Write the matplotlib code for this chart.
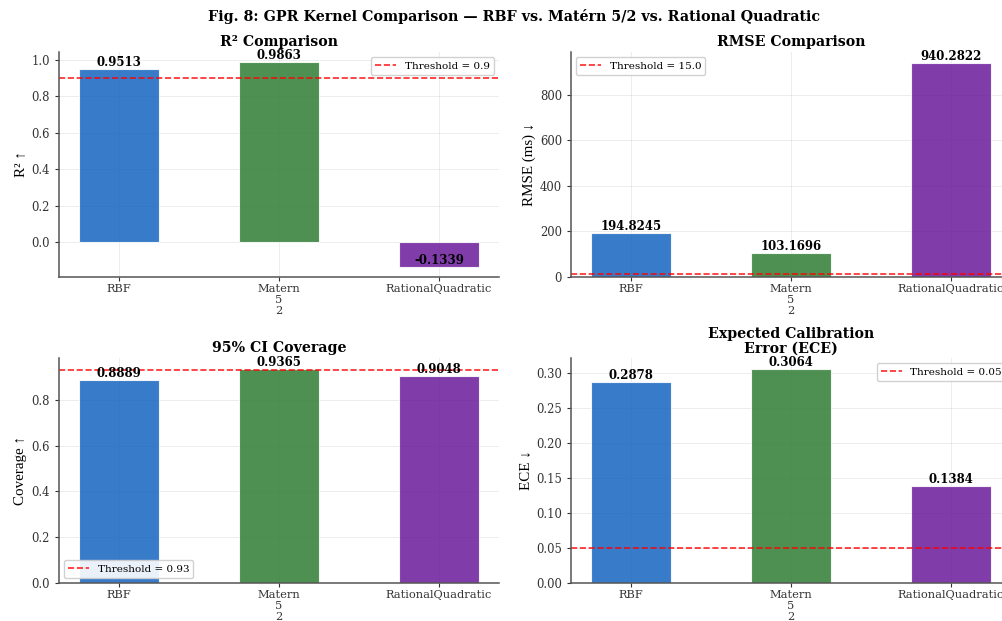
import numpy as np
import matplotlib
matplotlib.use("Agg")
import matplotlib.pyplot as plt

plt.rcParams['font.family'] = ['DejaVu Serif']
plt.rcParams['axes.unicode_minus'] = False

kernels = ['RBF', 'Matern\n5\n2', 'RationalQuadratic']
colors = ['#1565C0', '#2E7D32', '#6A1B9A']

r2 = [0.9513, 0.9863, -0.1339]
rmse = [194.8245, 103.1696, 940.2822]
coverage = [0.8889, 0.9365, 0.9048]
ece = [0.2878, 0.3064, 0.1384]

panels = [
    (r2, 'R² Comparison', 'R² ↑', 0.9, 'Threshold = 0.9', 'upper right'),
    (rmse, 'RMSE Comparison', 'RMSE (ms) ↓', 15.0, 'Threshold = 15.0', 'upper left'),
    (coverage, '95% CI Coverage', 'Coverage ↑', 0.93, 'Threshold = 0.93', 'lower left'),
    (ece, 'Expected Calibration\nError (ECE)', 'ECE ↓', 0.05, 'Threshold = 0.05', 'upper right'),
]

W, H = 1002, 621
fig = plt.figure(figsize=(W / 100, H / 100), dpi=100)

# axes boxes in pixels: left, top (width/height shared)
boxes = [(59, 52), (571, 52), (59, 358), (571, 358)]
aw, ah = 440, 225

x = np.arange(len(kernels))
for (vals, title, ylab, thr, thr_lab, loc), (px, py) in zip(panels, boxes):
    ax = fig.add_axes([px / W, 1 - (py + ah) / H, aw / W, ah / H])
    bars = ax.bar(x, vals, width=0.5, color=colors, alpha=0.85,
                  edgecolor='white', linewidth=0.8)
    for b, v in zip(bars, vals):
        ax.text(b.get_x() + b.get_width() / 2, v, f'{v:.4f}', ha='center', va='bottom',
                fontsize=8.5, fontweight='bold')
    ax.axhline(thr, color='red', linestyle='--', linewidth=1.2, alpha=0.85, label=thr_lab)
    ax.set_xticks(x)
    ax.set_xticklabels(kernels, fontsize=8.2, linespacing=1.1)
    ax.tick_params(axis='y', labelsize=8.4)
    ax.tick_params(axis='x', pad=2)
    ax.set_xlim(-0.375, 2.375)
    ax.set_title(title, fontsize=10.2, fontweight='bold', pad=4, linespacing=1.05)
    ax.set_ylabel(ylab, fontsize=10.8, family=['Liberation Serif', 'DejaVu Serif'], labelpad=3)
    ax.grid(True, color='#cccccc', alpha=0.4, linewidth=0.6)
    ax.set_axisbelow(True)
    for s in ['top', 'right']:
        ax.spines[s].set_visible(False)
    for s in ['left', 'bottom']:
        ax.spines[s].set_color('#555555')
        ax.spines[s].set_linewidth(1.1)
    ax.tick_params(colors='#333333', length=3)
    ax.legend(loc=loc, fontsize=7.5, framealpha=0.9, edgecolor='#cccccc')

fig.suptitle('Fig. 8: GPR Kernel Comparison — RBF vs. Matérn 5/2 vs. Rational Quadratic',
             x=514 / W, y=1 - 17 / H, va='center', fontsize=10.3, fontweight='bold')

fig.savefig('out.png', dpi=100)
